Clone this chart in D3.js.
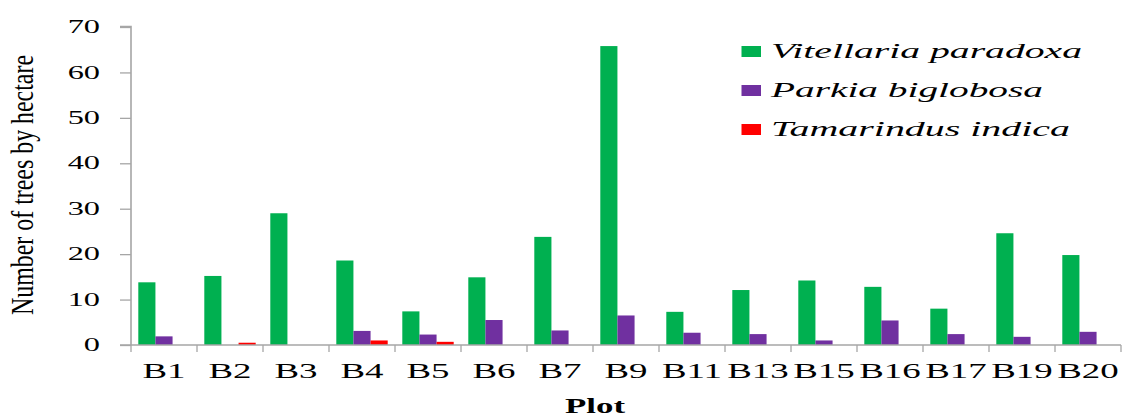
<!DOCTYPE html>
<html>
<head>
<meta charset="utf-8">
<script src="https://cdn.jsdelivr.net/npm/d3@7"></script>
<style>
  html, body { margin: 0; padding: 0; background: #fff; }
  svg { display: block; }
  text { font-family: "Liberation Serif", "Times New Roman", serif; fill: #000; }
</style>
</head>
<body>
<svg id="chart" width="1122" height="417"></svg>
<script>
const plots = ["B1","B2","B3","B4","B5","B6","B7","B9","B11","B13","B15","B16","B17","B19","B20"];
const seriesNames = ["Vitellaria paradoxa","Parkia biglobosa","Tamarindus indica"];
const vitellaria = [13.8,15.2,29.0,18.6,7.4,14.9,23.8,65.8,7.3,12.1,14.2,12.8,8.0,24.6,19.8];
const parkia     = [1.9,0,0,3.1,2.3,5.5,3.2,6.5,2.7,2.4,1.0,5.4,2.4,1.8,2.9];
const tamarindus = [0,0.5,0,1.0,0.7,0,0,0,0,0,0,0,0,0,0];
const yTicks = [0,10,20,30,40,50,60,70];
const colors = ["#00b050","#7030a0","#ff0000"];

const seriesValues = [vitellaria, parkia, tamarindus];
const SX = 1.8; // horizontal stretch of text seen in the reference

const svg = d3.select("#chart");
const x0 = d3.scaleBand().domain(plots).range([131, 1121]).padding(0);
const x1 = d3.scaleBand().domain(seriesNames).range([7.3, x0.bandwidth() - 7.3]).padding(0);
const y = d3.scaleLinear().domain([0, 70]).range([345, 27]);

// bars
const rows = plots.map((p, i) => ({ plot: p, vals: seriesNames.map((s, k) => ({ s, k, v: seriesValues[k][i] })) }));
const groups = svg.append("g").selectAll("g").data(rows).join("g")
  .attr("transform", d => `translate(${x0(d.plot)},0)`);
groups.selectAll("rect").data(d => d.vals.filter(v => v.v > 0)).join("rect")
  .attr("x", d => x1(d.s))
  .attr("width", x1.bandwidth())
  .attr("y", d => y(d.v))
  .attr("height", d => y(0) - y(d.v))
  .attr("fill", d => colors[d.k]);

// y axis
const yAxis = svg.append("g").attr("transform", "translate(131,0)")
  .call(d3.axisLeft(y).tickValues(yTicks).tickSize(11).tickFormat(""));
yAxis.select(".domain").attr("stroke", "#a6a6a6").attr("stroke-width", 1.6).attr("d", "M-11,26.5H0V345");
yAxis.selectAll(".tick line").attr("stroke", "#a6a6a6").attr("stroke-width", 1.3);
svg.append("g").selectAll("text").data(yTicks).join("text")
  .attr("transform", d => `translate(100,${y(d)}) scale(${SX},1)`)
  .attr("text-anchor", "end")
  .attr("dy", "0.34em")
  .style("font-size", "18px")
  .text(d => d);

// x axis
const xAxis = svg.append("g").attr("transform", "translate(0,345)")
  .call(d3.axisBottom(x0).tickSize(0).tickFormat(""));
xAxis.select(".domain").attr("stroke", "#a6a6a6").attr("stroke-width", 1.6).attr("d", "M120,0H1121");
xAxis.selectAll(".tick line").remove();
svg.append("g").selectAll("line").data(plots.concat(["end"])).join("line")
  .attr("x1", (d, i) => x0.range()[0] + i * x0.step())
  .attr("x2", (d, i) => x0.range()[0] + i * x0.step())
  .attr("y1", 345).attr("y2", 352)
  .attr("stroke", "#a6a6a6").attr("stroke-width", 1.3);
svg.append("g").selectAll("text").data(plots).join("text")
  .attr("transform", d => `translate(${x0(d) + x0.bandwidth() / 2},378) scale(${SX},1)`)
  .attr("text-anchor", "middle")
  .style("font-size", "20.5px")
  .text(d => d);

// axis titles
svg.append("text")
  .attr("transform", `translate(595,413) scale(1.66,1)`)
  .attr("text-anchor", "middle")
  .style("font-size", "21px").style("font-weight", "bold")
  .text("Plot");
svg.append("text")
  .attr("transform", `translate(33,185) scale(1.9,1) rotate(-90)`)
  .attr("text-anchor", "middle")
  .attr("textLength", 260).attr("lengthAdjust", "spacingAndGlyphs")
  .style("font-size", "17px")
  .text("Number of trees by hectare");

// legend
const legendY = [51.5, 90.5, 129.5];
const legendLen = [311, 272, 299];
const leg = svg.append("g").selectAll("g").data(seriesNames).join("g");
leg.append("rect")
  .attr("x", 741.5).attr("width", 19.5)
  .attr("y", (d, i) => legendY[i] - 5.5).attr("height", 11)
  .attr("fill", (d, i) => colors[i]);
leg.append("text")
  .attr("x", 771).attr("y", (d, i) => legendY[i] + 6)
  .attr("textLength", (d, i) => legendLen[i]).attr("lengthAdjust", "spacingAndGlyphs")
  .style("font-size", "22px").style("font-style", "italic")
  .text(d => d);
</script>
</body>
</html>
